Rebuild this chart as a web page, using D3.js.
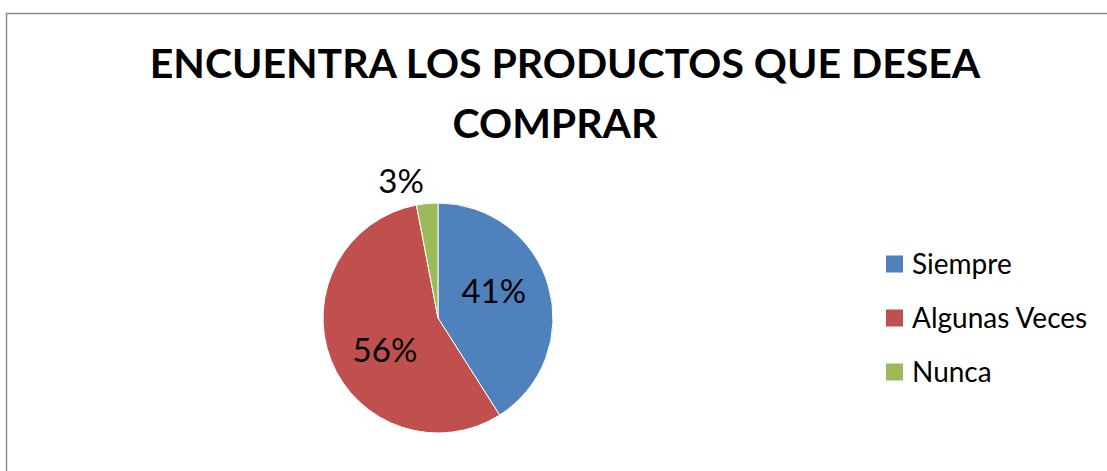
<html lang="es">
<head>
  <meta charset="UTF-8"/>
  <title>Encuentra los productos</title>
  <script src="https://d3js.org/d3.v7.min.js"></script>
  <style>
body {
  margin: 0;
  background: #fff;
  font-family: 'Lato', 'Open Sans', sans-serif;
}
svg {
  display: block;
}
text.title {
  font-size: 41px;
  font-weight: 700;
  fill: #000;
}
text.pct {
  font-size: 33px;
  fill: #000;
}
text.leg {
  font-size: 28px;
  fill: #000;
}
  </style>
</head>
<body>
<svg width="1107" height="471"></svg>
<script>

const categories = ['Siempre', 'Algunas Veces', 'Nunca'];
const values = [41, 56, 3];
const colors = ['#4F81BD', '#C0504D', '#9BBB59'];
const titleLines = ['ENCUENTRA LOS PRODUCTOS QUE DESEA', 'COMPRAR'];

const data = categories.map((c, i) => ({ name: c, value: values[i], color: colors[i] }));

const svg = d3.select('svg');

// chart border
svg.append('rect')
  .attr('x', 6.5)
  .attr('y', 13.5)
  .attr('width', 1120)
  .attr('height', 480)
  .attr('fill', 'none')
  .attr('stroke', '#8c8c8c')
  .attr('stroke-width', 1.5);

svg.selectAll('text.title')
  .data(titleLines)
  .enter()
  .append('text')
  .attr('class', 'title')
  .attr('x', (d, i) => i === 0 ? 565 : 555)
  .attr('y', (d, i) => 78 + i * 60)
  .attr('text-anchor', 'middle')
  .text(d => d);

const cx = 438, cy = 318, r = 115;

const pie = d3.pie().value(d => d.value).sort(null);
const arc = d3.arc().innerRadius(0).outerRadius(r);

const g = svg.append('g')
  .attr('transform', `translate(${cx}, ${cy})`);

const arcs = pie(data);

g.selectAll('path')
  .data(arcs)
  .enter()
  .append('path')
  .attr('d', arc)
  .attr('fill', d => d.data.color)
  .attr('stroke', '#fff')
  .attr('stroke-width', 1);

// labels: inside for big slices, outside for the small one
// (excel nudges them a bit counter-clockwise from the slice middle)
const labelPos = d => {
  const a = (d.startAngle + d.endAngle) / 2 - 0.17;
  const rr = d.data.value < 10 ? r * 1.23 : r * 0.54;
  return [Math.sin(a) * rr, -Math.cos(a) * rr];
};

g.selectAll('text.pct')
  .data(arcs)
  .enter()
  .append('text')
  .attr('class', 'pct')
  .attr('text-anchor', 'middle')
  .attr('dy', '0.36em')
  .attr('transform', d => `translate(${labelPos(d)})`)
  .text(d => `${d.data.value}%`);

// legend
const legY = d3.scalePoint()
  .domain(categories)
  .range([264, 372]);

const leg = svg.append('g');

leg.selectAll('rect')
  .data(data)
  .enter()
  .append('rect')
  .attr('x', 886)
  .attr('y', d => legY(d.name) - 8.5)
  .attr('width', 17)
  .attr('height', 17)
  .attr('fill', d => d.color);

leg.selectAll('text')
  .data(data)
  .enter()
  .append('text')
  .attr('class', 'leg')
  .attr('x', 912)
  .attr('y', d => legY(d.name))
  .attr('dy', '0.36em')
  .text(d => d.name);

</script>
</body>
</html>
